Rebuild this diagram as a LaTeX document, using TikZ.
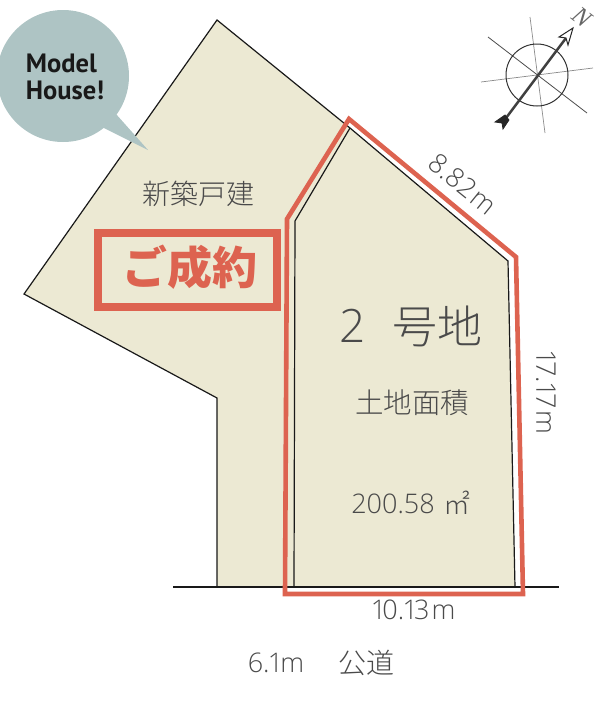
\documentclass[tikz,border=0pt]{standalone}
\usepackage{fontspec}
\setmainfont[Numbers=Proportional]{Open Sans Light}
\newfontfamily\jpfont{Noto Sans CJK JP Light}
\newfontfamily\jpbold{Noto Sans CJK JP Black}
\newfontfamily\modelfont{PT Sans Bold}
\newfontfamily\northfont{Liberation Serif Italic}
\definecolor{lotfill}{HTML}{ECE9D3}
\definecolor{redline}{HTML}{DD6350}
\definecolor{bubble}{HTML}{AEC4C4}
\definecolor{inkgray}{HTML}{4A4A4A}
\tikzset{
  lotline/.style={draw=black!90, line width=1.2pt, line join=miter},
  redframe/.style={draw=redline, line width=4.6pt, line join=miter},
  lotlabel/.style={text=inkgray, inner sep=0pt, font=\fontsize{27}{27}\selectfont},
}
\begin{document}
\begin{tikzpicture}[x=1pt, y=-1pt]
  \useasboundingbox (0, 0) rectangle (594, 713);

  \fill [lotfill] (217, 20) -- (350, 128) -- (508, 261) -- (515, 587) -- (217, 587) -- (217, 398) -- (24, 294) -- cycle;

  \draw [lotline] (350, 128) -- (217, 20) -- (24, 294) -- (217, 398) -- (217, 587);
  \draw [lotline] (350, 128) -- (295, 221) -- (294, 587);
  \draw [lotline] (350, 128) -- (508, 261) -- (515, 587);
  \draw [lotline] (173, 587) -- (559, 587);

  \draw [redframe] (349, 119) -- (287, 219) -- (285, 594) -- (523, 594) -- (516, 257) -- cycle;

  % bubble
  \fill [bubble] (63, 76) circle (66);
  \fill [bubble] (116, 114) -- (148, 150) -- (102, 127) -- cycle;
  \node [font=\modelfont\fontsize{26.5}{26.5}\selectfont, text=black!90, align=left, inner sep=0pt] (model) at (65, 77) {Model\\[0pt]House!};

  % sold box
  \draw [draw=redline, line width=8pt, line join=miter] (98, 233) rectangle (277, 307);
  \node [font=\jpbold\fontsize{45}{45}\selectfont, text=redline, inner sep=0pt] (sold) at (190, 267) {ご成約};
  \node [lotlabel, font=\jpfont\fontsize{28}{28}\selectfont] (newhouse) at (198, 194) {新築戸建};

  % lot labels
  \node [lotlabel, font=\fontsize{46}{46}\selectfont] (two) at (353, 326) {2};
  \node [lotlabel, font=\jpfont\fontsize{45}{45}\selectfont] (lotno) at (437, 326) {号地};
  \node [lotlabel, font=\jpfont\fontsize{28.5}{28.5}\selectfont] (area) at (412, 403) {土地面積};
  \node [lotlabel] (areaval) at (393, 504) {200.58};
  \node [lotlabel, font=\jpfont\fontsize{27}{27}\selectfont] (sqm) at (457, 503) {㎡};
  \node [lotlabel, rotate=-39] (top) at (463, 184) {8.82\kern2pt m};
  \node [lotlabel, rotate=-90] (side) at (546, 393) {17.17\kern2pt m};
  \node [lotlabel] (bottom) at (414, 610) {10.13\kern2pt m};
  \node [lotlabel] (road) at (276, 663) {6.1\kern1pt m};
  \node [lotlabel, font=\jpfont\fontsize{28}{28}\selectfont] (roadname) at (366, 663) {公道};

  % compass
  \draw [black!45, line width=0.7pt] (530, 17) -- (545, 133);
  \draw [black!45, line width=0.7pt] (481, 82) -- (593, 68);
  \draw [black!70, line width=0.8pt] (488, 37) -- (587, 113);
  \draw [black!80, line width=1pt] (537, 75) circle (31);
  \draw [black!75, line width=2.5pt] (503, 122) -- (566, 38);
  \draw [black!85, fill=white, line width=1pt] (573, 28) -- (559, 37) -- (566, 38) -- (568, 45) -- cycle;
  \draw [black!85, fill=black!85, line width=0.8pt] (505, 115) -- (495, 122) -- (502, 123) -- (503, 129) -- (509, 120) -- cycle;
  \node [font=\northfont\fontsize{25}{25}\selectfont, text=black!60, rotate=-38, inner sep=0pt] (north) at (582, 17) {N};
\end{tikzpicture}
\end{document}
